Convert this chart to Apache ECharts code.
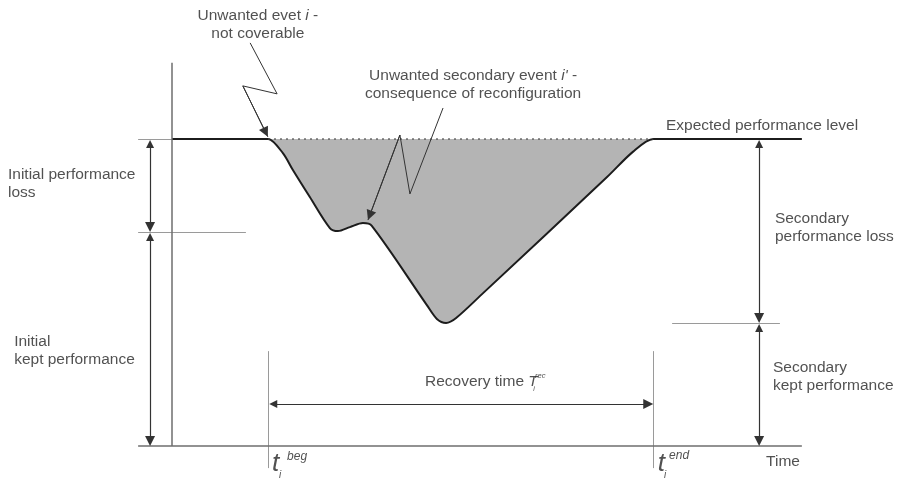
<!DOCTYPE html>
<html><head><meta charset="utf-8">
<script src="https://cdn.jsdelivr.net/npm/echarts@6/dist/echarts.min.js"></script>
<style>html,body{margin:0;padding:0;background:#fff}#c{width:901px;height:479px}</style>
</head><body><div id="c"></div>
<script>
// ---------- data (time units / performance units, expected level = 100) ----------
const expectedLevel = 100;
const tBeg = 25, tEnd = 125;
const timeAxisEnd = 163.6, perfAxisTop = 124.8, axisStub = -8.8;
const initialKeptLevel = 69.7;     // level after initial loss
const secondaryKeptLevel = 40.1;   // lowest level
const recoveryArrowLevel = 13.7;
const lossArrowTime = -5.7;
const secondaryArrowTime = 152.5;
const performance = [
  [0,100],[24,100],[25,100],[28.8,95.4],[31.4,89.9],[35.8,81.1],[41.0,71.0],[43.1,70.0],
  [46.2,71.3],[49.6,72.6],[51.9,71.7],[66.2,45.9],[68.8,41.4],[71.2,40.1],
  [73.8,41.7],[80.8,49.8],[113.0,87.6],[119.7,95.8],[125,100],[126,100],[163.6,100]
];
const bolt1 = [[20.3,131.3],[27.3,114.7],[18.4,117.3],[24.9,100.7]];
const bolt2 = [[70.4,110.1],[61.8,82.1],[59.2,101.3],[50.9,73.6]];

// ---------- layout / styles ----------
const W = 901, H = 479, X0 = 172, XS = 3.85, Y0 = 446, YS = 3.07;
const FONT = "'Liberation Sans', Arial, sans-serif";
const TXT = '#262626';
const HEAD = 10; // arrowhead length in px

const annotations = [
  {text:'Unwanted evet {it|i} -\nnot coverable', at:[22.3,137.3], align:'center'},
  {text:"Unwanted secondary event {it|i'} -\nconsequence of reconfiguration", at:[78.2,117.6], align:'center'},
  {text:'Expected performance level', at:[128.3,104.2]},
  {text:'Initial performance\nloss', at:[-42.6,85.3]},
  {text:'Secondary\nperformance loss', at:[156.6,71.2]},
  {text:'Initial\nkept performance', at:[-41.0,30.9]},
  {text:'Secondary\nkept performance', at:[156.1,22.5]},
  {text:'Recovery time {it|T}', at:[65.7,20.8]},
  {text:'Time', at:[154.3,-5.2]},
  {text:'rec', at:[94.3,22.8], size:7.5, italic:true},
  {text:'i', at:[93.8,18.6], size:7, italic:true},
  {text:'t', at:[26.0,-5.9], size:26, italic:true},
  {text:'beg', at:[29.9,-3.6], size:12, italic:true},
  {text:'i', at:[27.8,-9.4], size:10, italic:true},
  {text:'t', at:[126.2,-5.9], size:26, italic:true},
  {text:'end', at:[129.1,-3.3], size:12, italic:true},
  {text:'i', at:[127.8,-9.4], size:10, italic:true}
];

const guides = [
  [[axisStub,expectedLevel],[0,expectedLevel]],
  [[axisStub,initialKeptLevel],[19.2,initialKeptLevel]],
  [[129.9,secondaryKeptLevel],[157.9,secondaryKeptLevel]],
  [[tBeg,30.9],[tBeg,-7.2]],
  [[tEnd,30.9],[tEnd,-7.2]]
];
const doubleArrows = [
  [[lossArrowTime,expectedLevel],[lossArrowTime,initialKeptLevel]],
  [[lossArrowTime,initialKeptLevel],[lossArrowTime,0]],
  [[secondaryArrowTime,expectedLevel],[secondaryArrowTime,secondaryKeptLevel]],
  [[secondaryArrowTime,secondaryKeptLevel],[secondaryArrowTime,0]],
  [[tBeg,recoveryArrowLevel],[tEnd,recoveryArrowLevel]]
];
const boltHeads = [bolt1.slice(-2), bolt2.slice(-2)];

// pull segment ends back by half an arrowhead so the tip lands on the end point
function trim(seg, a, b) {
  const [[x1,y1],[x2,y2]] = seg;
  const dx = (x2-x1)*XS, dy = (y2-y1)*YS, len = Math.hypot(dx,dy);
  const ux = dx/len, uy = dy/len;
  return [[x1+ux*a/XS, y1+uy*a/YS],[x2-ux*b/XS, y2-uy*b/YS]];
}

const chart = echarts.init(document.getElementById('c'), null, {renderer:'canvas'});
chart.setOption({
  animation:false,
  backgroundColor:'#ffffff',
  grid:{left:0,right:0,top:0,bottom:0},
  xAxis:{type:'value', min:-X0/XS, max:(W-X0)/XS, show:false},
  yAxis:{type:'value', min:-(H-Y0)/YS, max:Y0/YS, show:false},
  series:[
    {type:'line', data:performance, smooth:0.3, symbol:'none', z:2,
     lineStyle:{color:'#1c1c1c', width:2},
     areaStyle:{origin:expectedLevel, color:'#b4b4b4', opacity:1}},
    {type:'line', data:[[tBeg,expectedLevel],[tEnd,expectedLevel]], symbol:'none', z:3,
     lineStyle:{color:'#444', width:1.5, type:[1.5,4.5]}},
    {type:'line', data:[[0,0],[0,perfAxisTop]], symbol:'none', z:3, lineStyle:{color:'#6e6e6e', width:1.5}},
    {type:'line', data:[[axisStub,0],[timeAxisEnd,0]], symbol:'none', z:3, lineStyle:{color:'#6e6e6e', width:1.5}},
    {type:'lines', coordinateSystem:'cartesian2d', symbol:'none', z:3,
     data:guides.map(c=>({coords:c})), lineStyle:{color:'#9a9a9a', width:1, opacity:1}},
    {type:'lines', coordinateSystem:'cartesian2d', symbol:['triangle','triangle'], symbolSize:[8,HEAD], z:4,
     data:doubleArrows.map(c=>({coords:trim(c,HEAD/2,HEAD/2)})), lineStyle:{color:'#333', width:1.2, opacity:1}},
    {type:'line', data:bolt1, symbol:'none', z:4, lineStyle:{color:'#333', width:1}},
    {type:'line', data:bolt2, symbol:'none', z:4, lineStyle:{color:'#333', width:1}},
    {type:'lines', coordinateSystem:'cartesian2d', symbol:['none','triangle'], symbolSize:[8,HEAD], z:4,
     data:boltHeads.map(c=>({coords:trim(c,0,HEAD/2)})), lineStyle:{color:'#333', width:1, opacity:1}},
    {type:'scatter', symbolSize:1, z:6, itemStyle:{color:'rgba(0,0,0,0)'},
     data:annotations.map(a=>({
       value:a.at,
       label:{show:true, position:'inside', formatter:a.text,
         align:a.align||'left', verticalAlign:'middle',
         fontFamily:FONT, fontSize:a.size||15.5, lineHeight:18,
         fontStyle:a.italic?'italic':'normal', color:TXT,
         rich:{it:{fontStyle:'italic', fontFamily:FONT, fontSize:15.5, color:TXT, lineHeight:18}}}
     }))}
  ]
});
</script></body></html>
